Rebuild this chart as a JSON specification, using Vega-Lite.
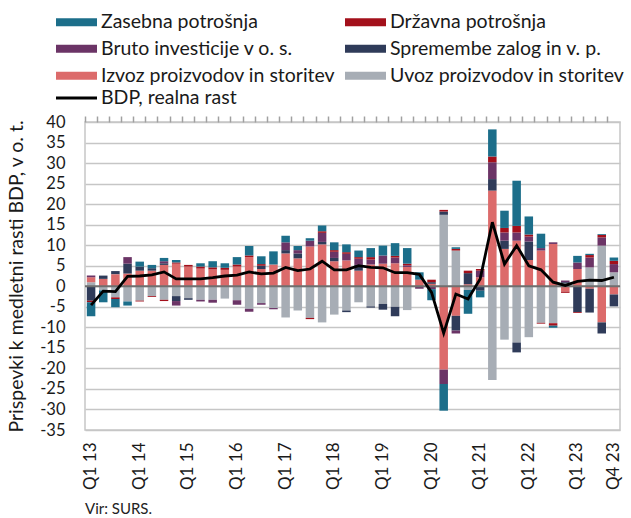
{
"$schema": "https://vega.github.io/schema/vega-lite/v6.json",
"width": 535, "height": 308,
"autosize": {"type": "none"},
"padding": {"left": 85, "top": 122, "right": 11, "bottom": 88},
"background": "white",
"config": {"font": "Lato", "view": {"stroke": "#c6c6c6", "strokeWidth": 1.5}},
"title": {"text": "Vir: SURS.", "orient": "bottom", "anchor": "start", "frame": "group", "fontSize": 15, "fontWeight": "normal", "color": "#222222", "offset": 12},
"resolve": {"axis": {"x": "independent"}},
"datasets": {"d": [
{"q":"Q1 13","k":"Uvoz proizvodov in storitev","v":1.0},{"q":"Q1 13","k":"Izvoz proizvodov in storitev","v":1.2},{"q":"Q1 13","k":"Bruto investicije v o. s.","v":0.4},{"q":"Q1 13","k":"Spremembe zalog in v. p.","v":-3.5},{"q":"Q1 13","k":"Državna potrošnja","v":-0.4},{"q":"Q1 13","k":"Zasebna potrošnja","v":-3.4},{"q":"Q1 13","k":"BDP, realna rast","v":-4.6},
{"q":"Q2 13","k":"Izvoz proizvodov in storitev","v":1.8},{"q":"Q2 13","k":"Spremembe zalog in v. p.","v":0.8},{"q":"Q2 13","k":"Uvoz proizvodov in storitev","v":-1.0},{"q":"Q2 13","k":"Zasebna potrošnja","v":-2.9},{"q":"Q2 13","k":"BDP, realna rast","v":-1.2},
{"q":"Q3 13","k":"Spremembe zalog in v. p.","v":0.8},{"q":"Q3 13","k":"Izvoz proizvodov in storitev","v":2.9},{"q":"Q3 13","k":"Uvoz proizvodov in storitev","v":-2.7},{"q":"Q3 13","k":"Državna potrošnja","v":-0.4},{"q":"Q3 13","k":"Zasebna potrošnja","v":-2.0},{"q":"Q3 13","k":"BDP, realna rast","v":-1.3},
{"q":"Q4 13","k":"Izvoz proizvodov in storitev","v":3.1},{"q":"Q4 13","k":"Spremembe zalog in v. p.","v":2.4},{"q":"Q4 13","k":"Bruto investicije v o. s.","v":1.6},{"q":"Q4 13","k":"Uvoz proizvodov in storitev","v":-3.7},{"q":"Q4 13","k":"Zasebna potrošnja","v":-1.0},{"q":"Q4 13","k":"BDP, realna rast","v":2.4},
{"q":"Q1 14","k":"Izvoz proizvodov in storitev","v":3.8},{"q":"Q1 14","k":"Spremembe zalog in v. p.","v":1.0},{"q":"Q1 14","k":"Zasebna potrošnja","v":1.2},{"q":"Q1 14","k":"Uvoz proizvodov in storitev","v":-3.5},{"q":"Q1 14","k":"Državna potrošnja","v":-0.2},{"q":"Q1 14","k":"BDP, realna rast","v":2.5},
{"q":"Q2 14","k":"Izvoz proizvodov in storitev","v":3.8},{"q":"Q2 14","k":"Spremembe zalog in v. p.","v":0.6},{"q":"Q2 14","k":"Zasebna potrošnja","v":0.8},{"q":"Q2 14","k":"Uvoz proizvodov in storitev","v":-2.4},{"q":"Q2 14","k":"Državna potrošnja","v":-0.2},{"q":"Q2 14","k":"BDP, realna rast","v":2.8},
{"q":"Q3 14","k":"Izvoz proizvodov in storitev","v":5.2},{"q":"Q3 14","k":"Spremembe zalog in v. p.","v":0.4},{"q":"Q3 14","k":"Bruto investicije v o. s.","v":0.5},{"q":"Q3 14","k":"Zasebna potrošnja","v":0.8},{"q":"Q3 14","k":"Uvoz proizvodov in storitev","v":-3.3},{"q":"Q3 14","k":"Državna potrošnja","v":-0.3},{"q":"Q3 14","k":"BDP, realna rast","v":3.5},
{"q":"Q4 14","k":"Izvoz proizvodov in storitev","v":5.5},{"q":"Q4 14","k":"Državna potrošnja","v":0.3},{"q":"Q4 14","k":"Zasebna potrošnja","v":0.6},{"q":"Q4 14","k":"Uvoz proizvodov in storitev","v":-2.4},{"q":"Q4 14","k":"Spremembe zalog in v. p.","v":-1.2},{"q":"Q4 14","k":"Bruto investicije v o. s.","v":-1.1},{"q":"Q4 14","k":"BDP, realna rast","v":1.8},
{"q":"Q1 15","k":"Izvoz proizvodov in storitev","v":4.8},{"q":"Q1 15","k":"Državna potrošnja","v":0.4},{"q":"Q1 15","k":"Uvoz proizvodov in storitev","v":-2.9},{"q":"Q1 15","k":"Spremembe zalog in v. p.","v":-0.4},{"q":"Q1 15","k":"BDP, realna rast","v":1.8},
{"q":"Q2 15","k":"Izvoz proizvodov in storitev","v":4.3},{"q":"Q2 15","k":"Državna potrošnja","v":0.5},{"q":"Q2 15","k":"Zasebna potrošnja","v":0.8},{"q":"Q2 15","k":"Uvoz proizvodov in storitev","v":-3.3},{"q":"Q2 15","k":"Bruto investicije v o. s.","v":-0.4},{"q":"Q2 15","k":"BDP, realna rast","v":1.8},
{"q":"Q3 15","k":"Izvoz proizvodov in storitev","v":4.1},{"q":"Q3 15","k":"Državna potrošnja","v":0.5},{"q":"Q3 15","k":"Zasebna potrošnja","v":1.5},{"q":"Q3 15","k":"Uvoz proizvodov in storitev","v":-3.3},{"q":"Q3 15","k":"Bruto investicije v o. s.","v":-0.7},{"q":"Q3 15","k":"BDP, realna rast","v":2.1},
{"q":"Q4 15","k":"Izvoz proizvodov in storitev","v":4.0},{"q":"Q4 15","k":"Državna potrošnja","v":0.5},{"q":"Q4 15","k":"Zasebna potrošnja","v":1.1},{"q":"Q4 15","k":"Uvoz proizvodov in storitev","v":-3.0},{"q":"Q4 15","k":"BDP, realna rast","v":2.5},
{"q":"Q1 16","k":"Izvoz proizvodov in storitev","v":4.8},{"q":"Q1 16","k":"Državna potrošnja","v":0.5},{"q":"Q1 16","k":"Zasebna potrošnja","v":1.8},{"q":"Q1 16","k":"Uvoz proizvodov in storitev","v":-3.4},{"q":"Q1 16","k":"Bruto investicije v o. s.","v":-1.1},{"q":"Q1 16","k":"BDP, realna rast","v":2.7},
{"q":"Q2 16","k":"Izvoz proizvodov in storitev","v":7.1},{"q":"Q2 16","k":"Državna potrošnja","v":0.4},{"q":"Q2 16","k":"Zasebna potrošnja","v":2.3},{"q":"Q2 16","k":"Uvoz proizvodov in storitev","v":-5.5},{"q":"Q2 16","k":"Bruto investicije v o. s.","v":-0.7},{"q":"Q2 16","k":"BDP, realna rast","v":3.5},
{"q":"Q3 16","k":"Izvoz proizvodov in storitev","v":4.2},{"q":"Q3 16","k":"Spremembe zalog in v. p.","v":0.8},{"q":"Q3 16","k":"Državna potrošnja","v":0.4},{"q":"Q3 16","k":"Zasebna potrošnja","v":1.9},{"q":"Q3 16","k":"Uvoz proizvodov in storitev","v":-4.1},{"q":"Q3 16","k":"Bruto investicije v o. s.","v":-0.4},{"q":"Q3 16","k":"BDP, realna rast","v":3.0},
{"q":"Q4 16","k":"Izvoz proizvodov in storitev","v":5.3},{"q":"Q4 16","k":"Zasebna potrošnja","v":3.2},{"q":"Q4 16","k":"Uvoz proizvodov in storitev","v":-5.3},{"q":"Q4 16","k":"Bruto investicije v o. s.","v":-0.3},{"q":"Q4 16","k":"BDP, realna rast","v":3.2},
{"q":"Q1 17","k":"Izvoz proizvodov in storitev","v":8.0},{"q":"Q1 17","k":"Spremembe zalog in v. p.","v":0.8},{"q":"Q1 17","k":"Bruto investicije v o. s.","v":1.9},{"q":"Q1 17","k":"Zasebna potrošnja","v":1.6},{"q":"Q1 17","k":"Uvoz proizvodov in storitev","v":-7.6},{"q":"Q1 17","k":"BDP, realna rast","v":4.6},
{"q":"Q2 17","k":"Izvoz proizvodov in storitev","v":6.8},{"q":"Q2 17","k":"Spremembe zalog in v. p.","v":1.2},{"q":"Q2 17","k":"Bruto investicije v o. s.","v":0.8},{"q":"Q2 17","k":"Zasebna potrošnja","v":1.0},{"q":"Q2 17","k":"Uvoz proizvodov in storitev","v":-5.9},{"q":"Q2 17","k":"BDP, realna rast","v":3.8},
{"q":"Q3 17","k":"Izvoz proizvodov in storitev","v":9.7},{"q":"Q3 17","k":"Bruto investicije v o. s.","v":1.4},{"q":"Q3 17","k":"Zasebna potrošnja","v":0.6},{"q":"Q3 17","k":"Uvoz proizvodov in storitev","v":-7.7},{"q":"Q3 17","k":"Državna potrošnja","v":-0.3},{"q":"Q3 17","k":"BDP, realna rast","v":4.2},
{"q":"Q4 17","k":"Izvoz proizvodov in storitev","v":10.2},{"q":"Q4 17","k":"Spremembe zalog in v. p.","v":0.6},{"q":"Q4 17","k":"Bruto investicije v o. s.","v":2.2},{"q":"Q4 17","k":"Državna potrošnja","v":0.4},{"q":"Q4 17","k":"Zasebna potrošnja","v":1.4},{"q":"Q4 17","k":"Uvoz proizvodov in storitev","v":-8.8},{"q":"Q4 17","k":"BDP, realna rast","v":6.1},
{"q":"Q1 18","k":"Izvoz proizvodov in storitev","v":6.1},{"q":"Q1 18","k":"Spremembe zalog in v. p.","v":0.8},{"q":"Q1 18","k":"Bruto investicije v o. s.","v":1.5},{"q":"Q1 18","k":"Državna potrošnja","v":0.4},{"q":"Q1 18","k":"Zasebna potrošnja","v":1.9},{"q":"Q1 18","k":"Uvoz proizvodov in storitev","v":-6.9},{"q":"Q1 18","k":"BDP, realna rast","v":4.0},
{"q":"Q2 18","k":"Izvoz proizvodov in storitev","v":6.3},{"q":"Q2 18","k":"Bruto investicije v o. s.","v":1.6},{"q":"Q2 18","k":"Državna potrošnja","v":0.4},{"q":"Q2 18","k":"Zasebna potrošnja","v":1.9},{"q":"Q2 18","k":"Uvoz proizvodov in storitev","v":-5.9},{"q":"Q2 18","k":"Spremembe zalog in v. p.","v":-0.4},{"q":"Q2 18","k":"BDP, realna rast","v":4.0},
{"q":"Q3 18","k":"Izvoz proizvodov in storitev","v":3.8},{"q":"Q3 18","k":"Spremembe zalog in v. p.","v":1.4},{"q":"Q3 18","k":"Bruto investicije v o. s.","v":1.5},{"q":"Q3 18","k":"Državna potrošnja","v":0.4},{"q":"Q3 18","k":"Zasebna potrošnja","v":1.6},{"q":"Q3 18","k":"Uvoz proizvodov in storitev","v":-3.9},{"q":"Q3 18","k":"BDP, realna rast","v":5.0},
{"q":"Q4 18","k":"Izvoz proizvodov in storitev","v":5.3},{"q":"Q4 18","k":"Bruto investicije v o. s.","v":1.2},{"q":"Q4 18","k":"Državna potrošnja","v":0.6},{"q":"Q4 18","k":"Zasebna potrošnja","v":2.2},{"q":"Q4 18","k":"Uvoz proizvodov in storitev","v":-4.9},{"q":"Q4 18","k":"Spremembe zalog in v. p.","v":-0.3},{"q":"Q4 18","k":"BDP, realna rast","v":4.6},
{"q":"Q1 19","k":"Izvoz proizvodov in storitev","v":5.5},{"q":"Q1 19","k":"Bruto investicije v o. s.","v":2.0},{"q":"Q1 19","k":"Zasebna potrošnja","v":2.4},{"q":"Q1 19","k":"Uvoz proizvodov in storitev","v":-4.3},{"q":"Q1 19","k":"Spremembe zalog in v. p.","v":-1.4},{"q":"Q1 19","k":"BDP, realna rast","v":4.5},
{"q":"Q2 19","k":"Izvoz proizvodov in storitev","v":5.6},{"q":"Q2 19","k":"Bruto investicije v o. s.","v":1.4},{"q":"Q2 19","k":"Državna potrošnja","v":0.4},{"q":"Q2 19","k":"Zasebna potrošnja","v":3.1},{"q":"Q2 19","k":"Uvoz proizvodov in storitev","v":-5.0},{"q":"Q2 19","k":"Spremembe zalog in v. p.","v":-2.3},{"q":"Q2 19","k":"BDP, realna rast","v":3.3},
{"q":"Q3 19","k":"Izvoz proizvodov in storitev","v":4.7},{"q":"Q3 19","k":"Bruto investicije v o. s.","v":0.4},{"q":"Q3 19","k":"Državna potrošnja","v":0.4},{"q":"Q3 19","k":"Zasebna potrošnja","v":3.8},{"q":"Q3 19","k":"Uvoz proizvodov in storitev","v":-5.8},{"q":"Q3 19","k":"BDP, realna rast","v":3.3},
{"q":"Q4 19","k":"Izvoz proizvodov in storitev","v":1.6},{"q":"Q4 19","k":"Zasebna potrošnja","v":1.8},{"q":"Q4 19","k":"Bruto investicije v o. s.","v":-0.6},{"q":"Q4 19","k":"BDP, realna rast","v":2.9},
{"q":"Q1 20","k":"Izvoz proizvodov in storitev","v":0.6},{"q":"Q1 20","k":"Spremembe zalog in v. p.","v":0.4},{"q":"Q1 20","k":"Državna potrošnja","v":0.6},{"q":"Q1 20","k":"Bruto investicije v o. s.","v":-0.7},{"q":"Q1 20","k":"Zasebna potrošnja","v":-2.7},{"q":"Q1 20","k":"BDP, realna rast","v":-1.5},
{"q":"Q2 20","k":"Uvoz proizvodov in storitev","v":17.4},{"q":"Q2 20","k":"Spremembe zalog in v. p.","v":0.8},{"q":"Q2 20","k":"Državna potrošnja","v":0.4},{"q":"Q2 20","k":"Izvoz proizvodov in storitev","v":-20.3},{"q":"Q2 20","k":"Bruto investicije v o. s.","v":-3.5},{"q":"Q2 20","k":"Zasebna potrošnja","v":-6.5},{"q":"Q2 20","k":"BDP, realna rast","v":-11.4},
{"q":"Q3 20","k":"Uvoz proizvodov in storitev","v":8.7},{"q":"Q3 20","k":"Državna potrošnja","v":0.4},{"q":"Q3 20","k":"Zasebna potrošnja","v":0.4},{"q":"Q3 20","k":"Izvoz proizvodov in storitev","v":-7.2},{"q":"Q3 20","k":"Spremembe zalog in v. p.","v":-3.6},{"q":"Q3 20","k":"Bruto investicije v o. s.","v":-0.7},{"q":"Q3 20","k":"BDP, realna rast","v":-1.9},
{"q":"Q4 20","k":"Izvoz proizvodov in storitev","v":0.5},{"q":"Q4 20","k":"Spremembe zalog in v. p.","v":2.7},{"q":"Q4 20","k":"Državna potrošnja","v":0.6},{"q":"Q4 20","k":"Uvoz proizvodov in storitev","v":-0.9},{"q":"Q4 20","k":"Zasebna potrošnja","v":-5.8},{"q":"Q4 20","k":"BDP, realna rast","v":-3.1},
{"q":"Q1 21","k":"Izvoz proizvodov in storitev","v":2.2},{"q":"Q1 21","k":"Bruto investicije v o. s.","v":1.6},{"q":"Q1 21","k":"Državna potrošnja","v":0.4},{"q":"Q1 21","k":"Spremembe zalog in v. p.","v":-1.1},{"q":"Q1 21","k":"Zasebna potrošnja","v":-1.6},{"q":"Q1 21","k":"BDP, realna rast","v":1.8},
{"q":"Q2 21","k":"Izvoz proizvodov in storitev","v":23.3},{"q":"Q2 21","k":"Spremembe zalog in v. p.","v":2.8},{"q":"Q2 21","k":"Bruto investicije v o. s.","v":4.1},{"q":"Q2 21","k":"Državna potrošnja","v":1.4},{"q":"Q2 21","k":"Zasebna potrošnja","v":6.6},{"q":"Q2 21","k":"Uvoz proizvodov in storitev","v":-22.8},{"q":"Q2 21","k":"BDP, realna rast","v":15.6},
{"q":"Q3 21","k":"Izvoz proizvodov in storitev","v":9.1},{"q":"Q3 21","k":"Spremembe zalog in v. p.","v":2.0},{"q":"Q3 21","k":"Bruto investicije v o. s.","v":2.0},{"q":"Q3 21","k":"Državna potrošnja","v":1.1},{"q":"Q3 21","k":"Zasebna potrošnja","v":4.2},{"q":"Q3 21","k":"Uvoz proizvodov in storitev","v":-13.0},{"q":"Q3 21","k":"BDP, realna rast","v":5.4},
{"q":"Q4 21","k":"Izvoz proizvodov in storitev","v":11.1},{"q":"Q4 21","k":"Bruto investicije v o. s.","v":2.0},{"q":"Q4 21","k":"Državna potrošnja","v":1.6},{"q":"Q4 21","k":"Zasebna potrošnja","v":11.0},{"q":"Q4 21","k":"Uvoz proizvodov in storitev","v":-13.7},{"q":"Q4 21","k":"Spremembe zalog in v. p.","v":-2.4},{"q":"Q4 21","k":"BDP, realna rast","v":9.9},
{"q":"Q1 22","k":"Izvoz proizvodov in storitev","v":6.4},{"q":"Q1 22","k":"Spremembe zalog in v. p.","v":4.5},{"q":"Q1 22","k":"Bruto investicije v o. s.","v":1.2},{"q":"Q1 22","k":"Državna potrošnja","v":0.5},{"q":"Q1 22","k":"Zasebna potrošnja","v":4.4},{"q":"Q1 22","k":"Uvoz proizvodov in storitev","v":-12.4},{"q":"Q1 22","k":"BDP, realna rast","v":5.0},
{"q":"Q2 22","k":"Izvoz proizvodov in storitev","v":8.7},{"q":"Q2 22","k":"Bruto investicije v o. s.","v":0.6},{"q":"Q2 22","k":"Zasebna potrošnja","v":3.5},{"q":"Q2 22","k":"Uvoz proizvodov in storitev","v":-8.9},{"q":"Q2 22","k":"Državna potrošnja","v":-0.2},{"q":"Q2 22","k":"BDP, realna rast","v":4.0},
{"q":"Q3 22","k":"Izvoz proizvodov in storitev","v":10.3},{"q":"Q3 22","k":"Bruto investicije v o. s.","v":0.4},{"q":"Q3 22","k":"Uvoz proizvodov in storitev","v":-9.0},{"q":"Q3 22","k":"Državna potrošnja","v":-0.6},{"q":"Q3 22","k":"Zasebna potrošnja","v":-0.5},{"q":"Q3 22","k":"BDP, realna rast","v":1.0},
{"q":"Q4 22","k":"Uvoz proizvodov in storitev","v":0.7},{"q":"Q4 22","k":"Spremembe zalog in v. p.","v":0.3},{"q":"Q4 22","k":"Bruto investicije v o. s.","v":0.4},{"q":"Q4 22","k":"Izvoz proizvodov in storitev","v":-1.3},{"q":"Q4 22","k":"Državna potrošnja","v":-0.3},{"q":"Q4 22","k":"BDP, realna rast","v":0.2},
{"q":"Q1 23","k":"Izvoz proizvodov in storitev","v":4.2},{"q":"Q1 23","k":"Bruto investicije v o. s.","v":1.6},{"q":"Q1 23","k":"Zasebna potrošnja","v":1.6},{"q":"Q1 23","k":"Spremembe zalog in v. p.","v":-6.3},{"q":"Q1 23","k":"Državna potrošnja","v":-0.2},{"q":"Q1 23","k":"BDP, realna rast","v":1.2},
{"q":"Q2 23","k":"Uvoz proizvodov in storitev","v":4.6},{"q":"Q2 23","k":"Bruto investicije v o. s.","v":2.4},{"q":"Q2 23","k":"Državna potrošnja","v":0.6},{"q":"Q2 23","k":"Zasebna potrošnja","v":0.3},{"q":"Q2 23","k":"Izvoz proizvodov in storitev","v":-0.6},{"q":"Q2 23","k":"Spremembe zalog in v. p.","v":-5.8},{"q":"Q2 23","k":"BDP, realna rast","v":1.5},
{"q":"Q3 23","k":"Uvoz proizvodov in storitev","v":9.9},{"q":"Q3 23","k":"Bruto investicije v o. s.","v":2.0},{"q":"Q3 23","k":"Državna potrošnja","v":0.6},{"q":"Q3 23","k":"Zasebna potrošnja","v":0.2},{"q":"Q3 23","k":"Izvoz proizvodov in storitev","v":-8.8},{"q":"Q3 23","k":"Spremembe zalog in v. p.","v":-2.7},{"q":"Q3 23","k":"BDP, realna rast","v":1.4},
{"q":"Q4 23","k":"Uvoz proizvodov in storitev","v":3.4},{"q":"Q4 23","k":"Bruto investicije v o. s.","v":2.0},{"q":"Q4 23","k":"Državna potrošnja","v":0.8},{"q":"Q4 23","k":"Zasebna potrošnja","v":0.8},{"q":"Q4 23","k":"Izvoz proizvodov in storitev","v":-2.0},{"q":"Q4 23","k":"Spremembe zalog in v. p.","v":-2.9},{"q":"Q4 23","k":"BDP, realna rast","v":2.2}
],
"zero": [{"v": 0}]
},
"layer": [
{
"data": {"name": "d"},
"transform": [
{"filter": "datum.k !== 'BDP, realna rast'"},
{"calculate": "indexof(['Uvoz proizvodov in storitev','Izvoz proizvodov in storitev','Spremembe zalog in v. p.','Bruto investicije v o. s.','Državna potrošnja','Zasebna potrošnja'], datum.k)", "as": "o"}
],
"mark": {"type": "bar"},
"encoding": {
"x": {"field": "q", "type": "ordinal", "sort": null, "title": null,
"scale": {"paddingInner": 0.3, "paddingOuter": 0.15},
"axis": {"title": null, "labelAngle": 270, "labelFontSize": 17, "labelColor": "#1a1a1a", "labelPadding": 12,
"labelExpr": "slice(datum.value,0,2) === 'Q1' || datum.value === 'Q4 23' ? datum.value : ''",
"labelOverlap": false, "labelBound": false, "ticks": false, "domain": false, "grid": false}},
"y": {"field": "v", "type": "quantitative", "stack": "zero", "title": "Prispevki k medletni rasti BDP, v o. t.",
"scale": {"domain": [-35, 40], "nice": false, "zero": false},
"axis": {"title": "Prispevki k medletni rasti BDP, v o. t.", "titleFontSize": 19.5, "titleFontWeight": "normal", "titleColor": "#1a1a1a", "titlePadding": 13,
"values": [-35,-30,-25,-20,-15,-10,-5,0,5,10,15,20,25,30,35,40], "tickCount": 30,
"labelExpr": "datum.value < 0 ? '-' + abs(datum.value) : '' + datum.value",
"labelOverlap": false, "labelFontSize": 16.5, "labelColor": "#1a1a1a", "labelPadding": 20, "ticks": false, "domain": false,
"grid": true, "gridColor": "#c6c6c6", "gridWidth": 1.5}},
"color": {"field": "k", "type": "nominal",
"scale": {"domain": ["Zasebna potrošnja","Bruto investicije v o. s.","Izvoz proizvodov in storitev","Državna potrošnja","Spremembe zalog in v. p.","Uvoz proizvodov in storitev"],
"range": ["#1c6e8a","#6b3466","#dc6b6b","#a3101b","#2f3b59","#a7adb5"]},
"legend": {"orient": "none", "legendX": -29, "legendY": -110, "columns": 2, "title": null, "padding": 0,
"symbolType": "M-1.95,-0.8H6.25V0.8H-1.95Z", "symbolSize": 100, "symbolStrokeWidth": 0, "symbolOpacity": 1,
"labelFontSize": 19.5, "labelOffset": 25.5, "labelColor": "#1a1a1a", "labelLimit": 400, "rowPadding": 6, "columnPadding": 9}},
"order": {"field": "o", "type": "quantitative"}
}
},
{
"data": {"name": "zero"},
"mark": {"type": "rule", "color": "#6f6f6f", "strokeWidth": 2},
"encoding": {"y": {"field": "v", "type": "quantitative", "title": "Prispevki k medletni rasti BDP, v o. t."}}
},
{
"data": {"name": "d"},
"transform": [{"filter": "datum.k === 'BDP, realna rast'"}],
"mark": {"type": "line", "strokeWidth": 2.8},
"encoding": {
"x": {"field": "q", "type": "ordinal", "sort": null, "title": null,
"axis": {"title": null, "labels": false, "domain": false, "grid": false, "ticks": true, "tickSize": 6, "tickColor": "#a0a0a0", "tickWidth": 1.5, "bandPosition": -0.214}},
"y": {"field": "v", "type": "quantitative", "title": "Prispevki k medletni rasti BDP, v o. t."},
"stroke": {"field": "k", "type": "nominal", "scale": {"range": ["#000000"]},
"legend": {"orient": "none", "legendX": -29, "legendY": -33.75, "title": null, "padding": 0,
"symbolType": "M-1.95,0H6.25", "symbolSize": 100, "symbolStrokeWidth": 3,
"labelFontSize": 19.5, "labelOffset": 25.5, "labelColor": "#1a1a1a", "labelLimit": 400}}
}
}
]
}
